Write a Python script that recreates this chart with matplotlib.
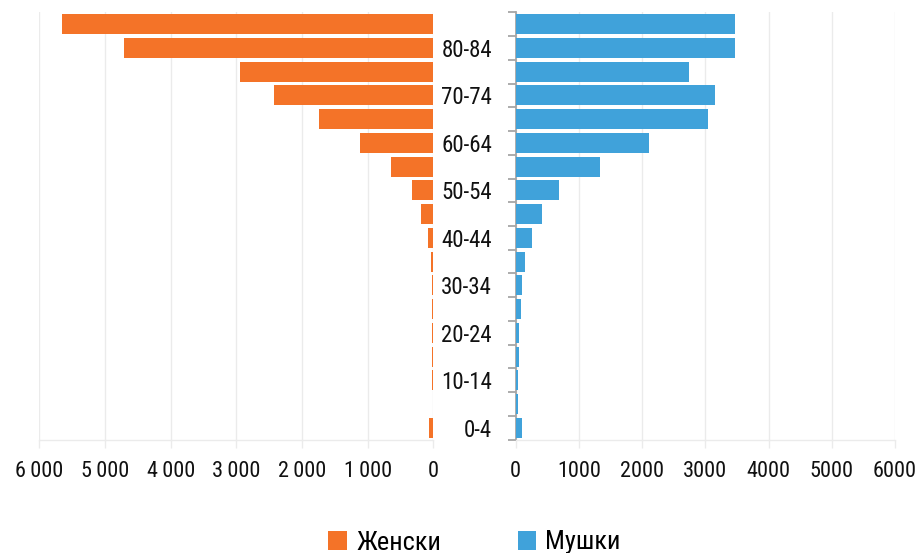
import matplotlib
matplotlib.use("Agg")
import matplotlib.pyplot as plt
import matplotlib.font_manager as fm
from matplotlib.patches import Patch
from matplotlib.ticker import FixedLocator

# pick a condensed sans-serif font if one is installed
_fonts = fm.fontManager.ttflist
_names = {f.name for f in _fonts}
_chosen = None
for cand in ['Liberation Sans Narrow', 'Roboto Condensed', 'Open Sans Condensed',
             'Noto Sans Condensed', 'DejaVu Sans Condensed', 'Arial Narrow']:
    if cand in _names:
        _chosen = cand
        break
if _chosen is None:
    for f in _fonts:
        if ('Narrow' in f.name or 'Condensed' in f.name) and f.weight in (400, 'normal', 'regular'):
            _chosen = f.name
            break
if _chosen is None:
    plt.rcParams['font.family'] = ['DejaVu Sans']
    plt.rcParams['font.stretch'] = 'condensed'
else:
    plt.rcParams['font.family'] = [_chosen, 'DejaVu Sans']

age_groups = ['0-4', '5-9', '10-14', '15-19', '20-24', '25-29', '30-34', '35-39',
              '40-44', '45-49', '50-54', '55-59', '60-64', '65-69', '70-74',
              '75-79', '80-84', '85+']
female = [61, 12, 14, 14, 16, 16, 22, 40, 85, 192, 324, 644, 1116, 1740, 2425,
          2942, 4703, 5647]
male = [100, 32, 32, 57, 57, 79, 100, 147, 258, 416, 680, 1329, 2109, 3048,
        3158, 2737, 3470, 3470]
x_ticks = [0, 1000, 2000, 3000, 4000, 5000, 6000]
left_tick_labels = ['0', '1\u2009000', '2\u2009000', '3\u2009000', '4\u2009000',
                    '5\u2009000', '6\u2009000']
right_tick_labels = ['0', '1000', '2000', '3000', '4000', '5000', '6000']
legend_labels = ['Женски', 'Мушки']

orange = '#F47328'
blue = '#40A2DA'
grid_c = '#EBEBEB'
spine_c = '#A6A6A6'

W, H = 917, 553
fig = plt.figure(figsize=(W / 100, H / 100), dpi=100)

top_px, bot_px = 12.3, 439.7
bottom = 1 - bot_px / H
height = (bot_px - top_px) / H
axL = fig.add_axes([39.3 / W, bottom, (433.3 - 39.3) / W, height])
axR = fig.add_axes([515.7 / W, bottom, (895 - 515.7) / W, height])

y = list(range(len(age_groups)))

axL.barh(y, female, height=0.85, color=orange, linewidth=0, zorder=3)
axL.set_xlim(6000, 0)
axR.barh(y, male, height=0.85, color=blue, linewidth=0, zorder=3)
axR.set_xlim(0, 6000)

for ax in (axL, axR):
    ax.set_ylim(-0.5, len(age_groups) - 0.5)
    ax.set_xticks(x_ticks)
    ax.grid(axis='x', color=grid_c, linewidth=1.0, zorder=0)
    ax.set_axisbelow(True)
    for s in ('top', 'right', 'left'):
        ax.spines[s].set_visible(False)
    ax.spines['bottom'].set_color(grid_c)
    ax.spines['bottom'].set_linewidth(1.0)
    ax.tick_params(axis='x', length=6, width=1.0, color=grid_c, labelsize=16,
                   pad=9.5, labelcolor='#111111')

axL.set_xticklabels(left_tick_labels)
axR.set_xticklabels(right_tick_labels)

axL.set_yticks([])

axR.spines['left'].set_visible(True)
axR.spines['left'].set_color(spine_c)
axR.spines['left'].set_linewidth(1.3)
axR.set_yticks(y[::2])
axR.set_yticklabels(age_groups[::2])
axR.yaxis.set_minor_locator(FixedLocator([i - 0.5 for i in range(len(age_groups) + 1)]))
axR.tick_params(axis='y', which='major', length=0, pad=17, labelsize=16.5,
                labelcolor='#111111')
axR.tick_params(axis='y', which='minor', length=6, width=1.3, color=spine_c)

handles = [Patch(facecolor=orange, edgecolor='none'),
           Patch(facecolor=blue, edgecolor='none')]
fig.legend(handles, legend_labels, loc='center', bbox_to_anchor=(474.5 / W, 1 - 542.5 / H),
           ncol=2, frameon=False, fontsize=19, handlelength=0.7, handleheight=0.7,
           handletextpad=0.35, columnspacing=2.9, borderpad=0, borderaxespad=0)

fig.savefig('out.png', dpi=100)
